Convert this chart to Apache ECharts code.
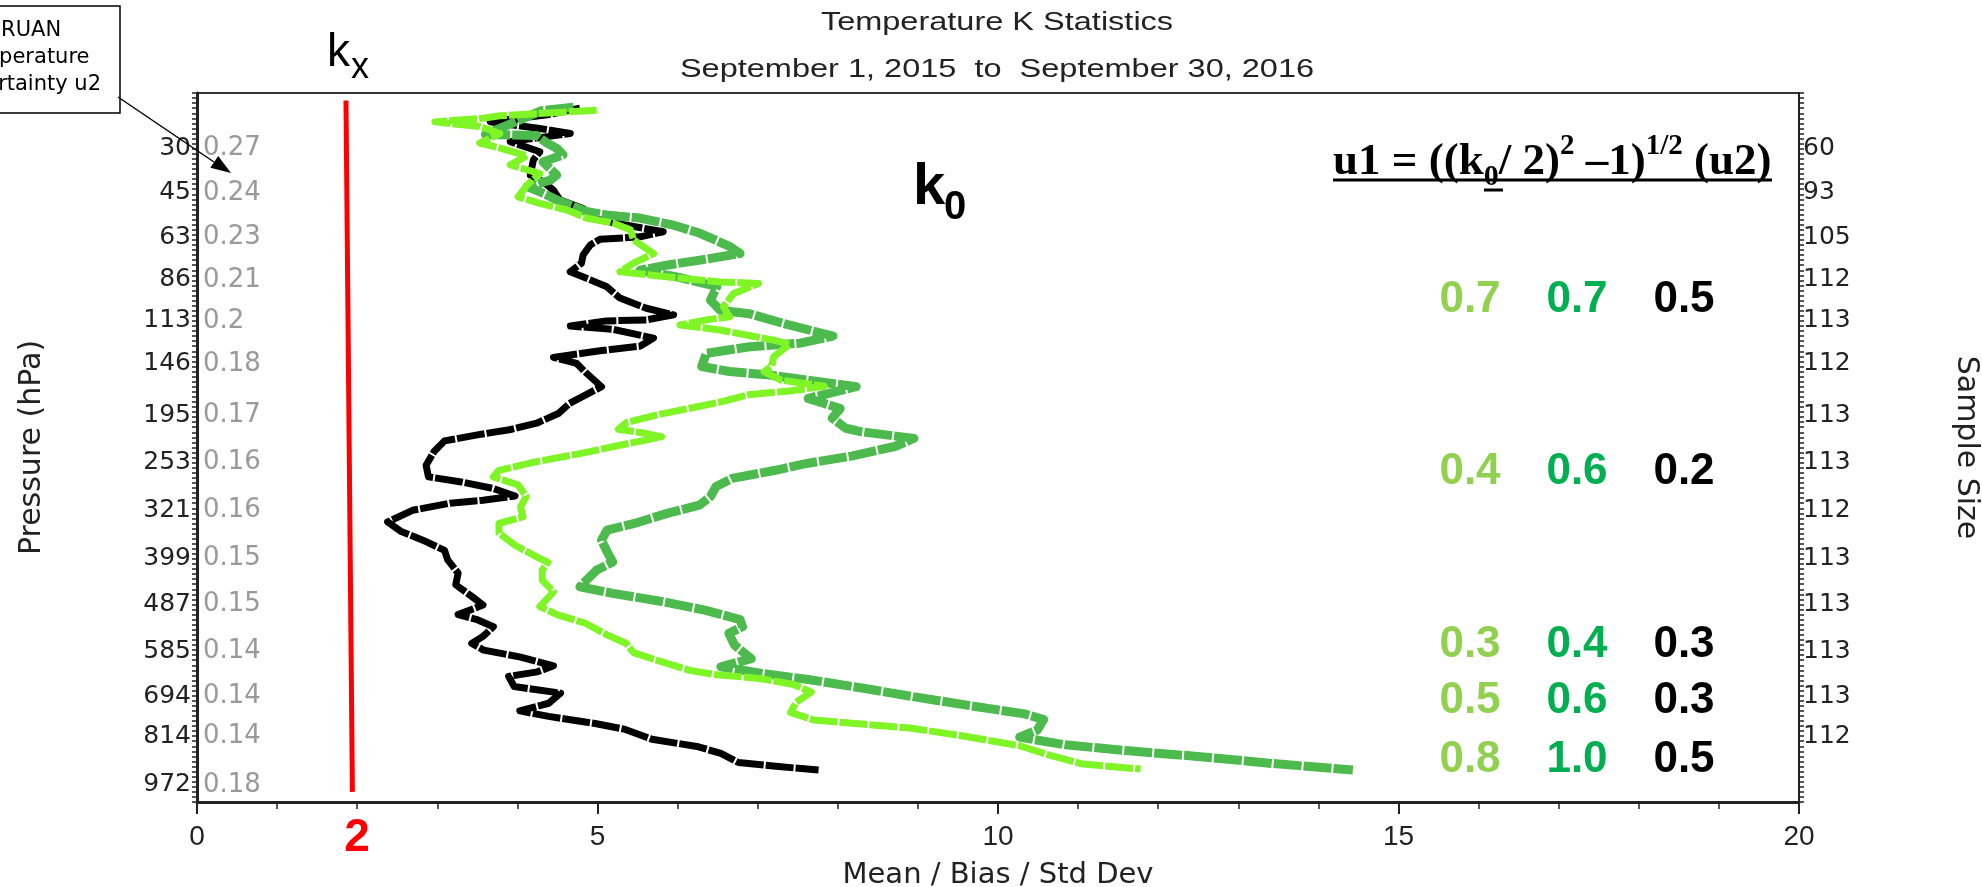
<!DOCTYPE html>
<html><head><meta charset="utf-8">
<script src="https://cdn.jsdelivr.net/npm/echarts@6/dist/echarts.min.js"></script>
<style>html,body{margin:0;padding:0;background:#fff}#c{width:1982px;height:887px}</style>
</head><body><div id="c"></div>
<script>
// ---------- data ----------
const titleText = 'Temperature K Statistics';
const subtitleText = 'September 1, 2015  to  September 30, 2016';
const pressureLabels = ['30','45','63','86','113','146','195','253','321','399','487','585','694','814','972'];
const u2Labels = ['0.27','0.24','0.23','0.21','0.2','0.18','0.17','0.16','0.16','0.15','0.15','0.14','0.14','0.14','0.18'];
const labelLevels = [129.0,120.3,111.5,103.1,95.0,86.5,76.4,67.0,57.6,48.1,39.0,29.8,20.8,12.9,3.4];
const sampleSizes = ['60','93','105','112','113','112','113','113','112','113','113','113','113','112'];
const xTicks = [0,5,10,15,20];

// profiles: [value, height level]
const blackProfile = [[4.78,137.0],[4.37,135.7],[3.66,134.3],[4.28,133.0],[4.66,132.0],[3.91,130.4],[4.28,128.4],[4.20,126.8],[4.16,123.8],[4.32,122.5],[4.45,120.8],[4.53,118.9],[4.82,117.2],[4.95,115.2],[5.36,113.9],[5.82,112.6],[5.53,111.6],[5.03,111.1],[4.91,110.0],[4.82,108.0],[4.80,106.4],[4.66,104.7],[4.91,103.1],[5.11,101.8],[5.28,99.5],[5.61,97.5],[5.95,96.2],[5.61,95.2],[5.11,95.0],[4.66,94.0],[5.20,93.3],[5.70,91.6],[5.53,90.0],[5.03,89.1],[4.45,87.8],[4.74,86.6],[4.84,85.0],[5.05,82.0],[4.65,78.7],[4.51,76.7],[4.24,74.8],[3.90,73.5],[3.50,72.5],[3.09,71.3],[2.96,69.2],[2.86,66.5],[2.89,64.2],[3.30,63.2],[3.70,61.9],[3.97,60.4],[3.57,59.6],[3.16,59.0],[2.69,57.6],[2.38,55.3],[2.55,53.4],[2.82,51.7],[3.09,49.7],[3.13,47.8],[3.26,45.2],[3.23,42.9],[3.43,40.6],[3.57,38.9],[3.26,37.0],[3.50,36.0],[3.70,34.6],[3.57,32.7],[3.43,31.3],[3.58,30.0],[4.04,28.6],[4.45,26.9],[4.25,25.7],[3.89,24.8],[3.96,22.8],[4.54,21.5],[4.39,19.5],[4.03,18.0],[4.39,16.9],[4.97,15.5],[5.33,14.4],[5.68,12.4],[6.26,10.9],[6.54,9.6],[6.76,7.8],[7.26,7.0],[7.76,6.3]];
const lightGreenProfile = [[4.99,136.6],[3.78,135.5],[3.57,135.0],[2.97,134.3],[3.53,133.4],[3.78,132.0],[3.53,130.1],[3.74,129.3],[4.12,127.6],[3.91,125.8],[4.28,124.1],[4.12,121.8],[4.01,119.5],[4.28,118.2],[4.62,116.9],[4.86,115.3],[5.20,114.3],[5.41,113.0],[5.45,111.0],[5.70,108.3],[5.45,106.4],[5.28,104.7],[5.86,103.7],[6.53,102.7],[7.01,102.4],[6.70,100.4],[6.57,97.8],[6.65,95.8],[6.40,95.3],[6.03,94.2],[6.53,93.2],[7.20,91.2],[7.40,90.4],[7.20,87.9],[7.17,86.0],[7.08,85.0],[7.29,83.3],[7.83,82.1],[7.42,81.2],[6.88,80.4],[6.54,79.0],[6.14,77.7],[5.73,76.4],[5.36,74.9],[5.26,73.6],[5.60,72.8],[5.80,72.1],[5.39,70.8],[4.78,68.8],[4.24,67.2],[3.77,65.5],[3.70,64.2],[4.01,62.6],[4.11,60.3],[4.04,58.3],[4.07,56.3],[3.77,55.0],[3.77,53.1],[3.97,50.7],[4.24,48.4],[4.38,47.3],[4.31,45.8],[4.31,43.8],[4.45,41.5],[4.28,38.6],[4.51,36.9],[4.85,35.3],[5.12,33.0],[5.36,31.3],[5.45,29.5],[5.78,27.8],[6.15,26.0],[6.45,25.2],[7.02,24.4],[7.45,23.2],[7.67,21.7],[7.48,19.7],[7.41,17.7],[7.70,16.2],[8.22,15.5],[8.90,14.6],[9.50,13.2],[9.98,11.9],[10.27,11.1],[10.63,9.3],[11.06,7.5],[11.78,6.5]];
const mediumGreenProfile = [[4.70,137.2],[4.30,136.5],[3.60,131.8],[4.24,131.6],[4.37,130.1],[4.49,129.1],[4.57,127.8],[4.32,126.4],[4.49,123.8],[4.41,122.8],[4.12,121.5],[4.28,120.5],[4.49,118.9],[4.86,116.6],[5.11,115.9],[5.53,115.3],[5.95,113.9],[6.28,112.3],[6.65,109.7],[6.78,108.3],[6.28,107.0],[5.86,106.0],[5.53,105.0],[5.99,103.7],[6.49,101.8],[6.41,99.1],[6.53,97.1],[6.90,96.4],[7.32,94.5],[7.94,92.0],[7.53,90.6],[6.90,89.9],[6.36,88.6],[6.30,86.0],[6.65,85.0],[7.15,84.3],[8.23,82.0],[7.63,79.7],[8.03,77.7],[7.93,75.8],[8.10,73.8],[8.30,73.1],[8.95,71.8],[8.71,70.2],[8.17,68.3],[7.63,66.9],[7.22,65.5],[6.68,63.9],[6.48,62.3],[6.41,60.3],[6.27,58.6],[5.87,57.0],[5.46,55.0],[5.12,53.7],[5.05,51.7],[5.12,49.4],[5.19,47.4],[4.99,45.8],[4.78,42.5],[5.19,41.2],[5.80,39.6],[6.34,37.9],[6.78,36.0],[6.81,34.6],[6.64,33.3],[6.71,31.0],[6.85,29.2],[6.92,28.3],[6.54,26.7],[7.05,25.4],[7.63,24.2],[8.30,22.5],[8.98,20.7],[9.66,19.0],[10.33,17.4],[10.57,16.3],[10.49,14.2],[10.27,12.8],[10.84,11.3],[11.63,10.1],[12.49,9.0],[13.43,7.6],[14.43,6.3]];
const kxLine = [[1.86,138.5],[1.94,2.0]];

const u1Light = ['0.7','0.4','0.3','0.5','0.8'];
const u1Green = ['0.7','0.6','0.4','0.6','1.0'];
const u1Black = ['0.5','0.2','0.3','0.3','0.5'];

// ---------- chart ----------
const chart = echarts.init(document.getElementById('c'), null, {renderer:'canvas'});
const SANS = 'DejaVu Sans';
const ARIAL = 'Liberation Sans, Arial';
const tickEvery = [];
for (let v = 0; v <= 140; v += 1) tickEvery.push(v);
const lvlMap = (arr) => (v) => {
  let best = 0, d = 1e9;
  labelLevels.forEach((l, i) => { if (Math.abs(l - v) < d) { d = Math.abs(l - v); best = i; } });
  return arr[best] || '';
};

const tableCols = [1470, 1577, 1684];
const tableRows = [300, 472, 645, 701, 760];
const tableColors = ['#92D050', '#00B050', '#000000'];
const tableGraphics = [];
[u1Light, u1Green, u1Black].forEach((col, ci) => {
  col.forEach((t, ri) => {
    tableGraphics.push({type:'text', x: tableCols[ci], y: tableRows[ri], z: 20,
      style:{text:t, fill: tableColors[ci], font:'bold 44px Liberation Sans, Arial', textAlign:'center', textVerticalAlign:'middle'}});
  });
});

const profileLine = (color, width) => ({color, width, type:[28,2], cap:'butt', join:'round'});

const option = {
  animation: false,
  backgroundColor: '#fff',
  grid: {left:197, right:183, top:93, bottom:85, outerBoundsMode:'none', containLabel:false,
         show:true, borderColor:'#333', borderWidth:2, backgroundColor:'transparent'},
  xAxis: {
    type:'value', min:0, max:20, interval:5,
    name:'Mean / Bias / Std Dev', nameLocation:'middle', nameGap:59,
    nameTextStyle:{fontFamily:SANS, fontSize:29, color:'#222'},
    axisLine:{show:true, lineStyle:{color:'#222', width:3}},
    axisTick:{show:true, length:12, lineStyle:{color:'#222', width:2}},
    minorTick:{show:true, splitNumber:5, length:7, lineStyle:{color:'#222', width:1.5}},
    splitLine:{show:false},
    axisLabel:{fontFamily:ARIAL, fontSize:28, color:'#222', margin:21,
      formatter:(v)=> xTicks.indexOf(v) >= 0 ? String(v) : ''}
  },
  yAxis: [
    {
      type:'value', min:0, max:140, position:'left',
      name:'Pressure (hPa)', nameLocation:'middle', nameGap:150, nameRotate:90,
      nameTextStyle:{fontFamily:SANS, fontSize:30, color:'#222'},
      axisLine:{show:true, lineStyle:{color:'#222', width:3}},
      axisTick:{show:true, length:5, customValues: tickEvery, lineStyle:{color:'#222', width:1.5}},
      splitLine:{show:false},
      axisLabel:{customValues: labelLevels, formatter: lvlMap(pressureLabels), fontFamily:SANS, fontSize:25, color:'#222', margin:6}
    },
    {
      type:'value', min:0, max:140, position:'left', offset:0,
      axisLine:{show:false}, axisTick:{show:false}, splitLine:{show:false},
      axisLabel:{inside:true, customValues: labelLevels, formatter: lvlMap(u2Labels), fontFamily:SANS, fontSize:26, color:'#999', margin:6}
    },
    {
      type:'value', min:0, max:140, position:'right',
      name:'Sample Size', nameLocation:'middle', nameGap:152, nameRotate:-90,
      nameTextStyle:{fontFamily:SANS, fontSize:30, color:'#222'},
      axisLine:{show:true, lineStyle:{color:'#222', width:2}},
      axisTick:{show:true, length:5, customValues: tickEvery, lineStyle:{color:'#222', width:1.5}},
      splitLine:{show:false},
      axisLabel:{customValues: labelLevels.slice(0, sampleSizes.length), formatter: lvlMap(sampleSizes), fontFamily:SANS, fontSize:25, color:'#222', margin:4}
    }
  ],
  series: [
    {type:'line', name:'black', data: blackProfile, showSymbol:false, z:3, lineStyle: profileLine('#000000', 7)},
    {type:'line', name:'medium', data: mediumGreenProfile, showSymbol:false, z:4, lineStyle: profileLine('#4DBA4D', 9)},
    {type:'line', name:'light', data: lightGreenProfile, showSymbol:false, z:5, lineStyle: profileLine('#80F526', 7)},
    {type:'line', name:'kx', data: kxLine, showSymbol:false, z:6, lineStyle:{color:'#FF0000', width:5}}
  ],
  graphic: [
    {type:'text', x:997, y:23, scaleX:1.3, z:11, style:{text:titleText, font:'25px Liberation Sans, Arial', fill:'#222', textAlign:'center', textVerticalAlign:'middle'}},
    {type:'text', x:997, y:70, scaleX:1.3, z:11, style:{text:subtitleText, font:'25px Liberation Sans, Arial', fill:'#222', textAlign:'center', textVerticalAlign:'middle'}},
    {type:'rect', shape:{x:-20, y:6, width:140, height:107}, style:{fill:'#fff', stroke:'#000', lineWidth:1.5}, z:10},
    {type:'text', x:23, y:31, z:11, style:{text:'GRUAN', font:'21px DejaVu Sans', fill:'#000', textAlign:'center', textVerticalAlign:'middle'}},
    {type:'text', x:23, y:58, z:11, style:{text:'Temperature', font:'21px DejaVu Sans', fill:'#000', textAlign:'center', textVerticalAlign:'middle'}},
    {type:'text', x:23, y:85, z:11, style:{text:'Uncertainty u2', font:'21px DejaVu Sans', fill:'#000', textAlign:'center', textVerticalAlign:'middle'}},
    {type:'line', shape:{x1:118, y1:97, x2:214, y2:162}, style:{stroke:'#000', lineWidth:1.5}, z:11},
    {type:'polygon', shape:{points:[[231,173],[210.4,167.7],[218.2,156.1]]}, style:{fill:'#000'}, z:11},
    {type:'text', x:327, y:76, z:11, style:{text:'k', font:'46px Liberation Sans, Arial', fill:'#000', textAlign:'left', textVerticalAlign:'bottom'}},
    {type:'text', x:351, y:86, z:11, style:{text:'x', font:'36px Liberation Sans, Arial', fill:'#000', textAlign:'left', textVerticalAlign:'bottom'}},
    {type:'text', x:913, y:217, z:11, style:{text:'k', font:'bold 58px Liberation Sans, Arial', fill:'#000', textAlign:'left', textVerticalAlign:'bottom'}},
    {type:'text', x:944, y:228, z:11, style:{text:'0', font:'bold 40px Liberation Sans, Arial', fill:'#000', textAlign:'left', textVerticalAlign:'bottom'}},
    {type:'text', x:357, y:838, z:11, style:{text:'2', font:'bold 46px Liberation Sans, Arial', fill:'#FF0000', textAlign:'center', textVerticalAlign:'middle'}},
    {type:'text', x:1333, y:162, z:11, style:{
      text:'{m|u1 = ((k}{s|0}{m|/ 2)}{p|2}{m| \u20131)}{p|1/2}{m| (u2)}',
      textVerticalAlign:'middle', textAlign:'left',
      rich:{
        m:{fontFamily:'Liberation Serif', fontWeight:'bold', fontSize:45, lineHeight:60, verticalAlign:'middle', color:'#000'},
        s:{fontFamily:'Liberation Serif', fontWeight:'bold', fontSize:30, lineHeight:30, verticalAlign:'bottom', color:'#000'},
        p:{fontFamily:'Liberation Serif', fontWeight:'bold', fontSize:29, lineHeight:38, verticalAlign:'top', color:'#000'}
      }}},
    {type:'line', shape:{x1:1333, y1:180, x2:1772, y2:180}, style:{stroke:'#000', lineWidth:3}, z:11},
    {type:'line', shape:{x1:1484, y1:190, x2:1503, y2:190}, style:{stroke:'#000', lineWidth:3}, z:11}
  ].concat(tableGraphics)
};
chart.setOption(option);
</script>
</body></html>
